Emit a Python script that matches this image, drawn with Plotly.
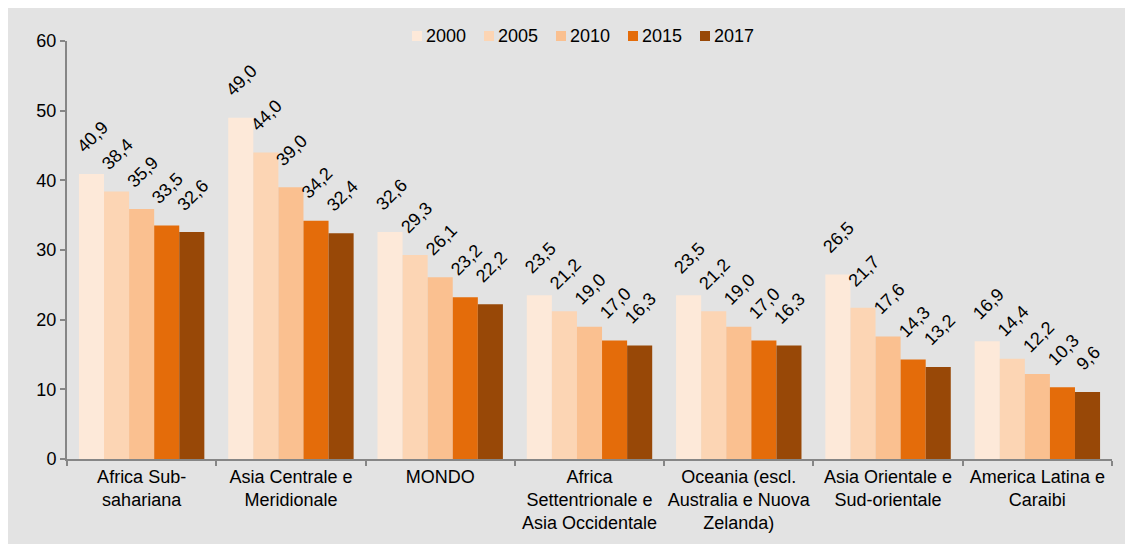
import plotly.graph_objects as go

categories = [
    "Africa Sub-<br>sahariana",
    "Asia Centrale e<br>Meridionale",
    "MONDO",
    "Africa<br>Settentrionale e<br>Asia Occidentale",
    "Oceania (escl.<br>Australia e Nuova<br>Zelanda)",
    "Asia Orientale e<br>Sud-orientale",
    "America Latina e<br>Caraibi",
]
years = ["2000", "2005", "2010", "2015", "2017"]
values_2000 = [40.9, 49.0, 32.6, 23.5, 23.5, 26.5, 16.9]
values_2005 = [38.4, 44.0, 29.3, 21.2, 21.2, 21.7, 14.4]
values_2010 = [35.9, 39.0, 26.1, 19.0, 19.0, 17.6, 12.2]
values_2015 = [33.5, 34.2, 23.2, 17.0, 17.0, 14.3, 10.3]
values_2017 = [32.6, 32.4, 22.2, 16.3, 16.3, 13.2, 9.6]
y_ticks = [0, 10, 20, 30, 40, 50, 60]

series = [values_2000, values_2005, values_2010, values_2015, values_2017]
colors = ["#fde9d9", "#fcd5b4", "#fac090", "#e46c0a", "#984807"]

FONT = "Arial, Liberation Sans, sans-serif"
BARGAP = 0.16
PLOT_W = 1125 - 59 - 21
PLOT_H = 536 - 33 - 85

fig = go.Figure()
for year, vals, col in zip(years, series, colors):
    fig.add_trace(go.Bar(x=categories, y=vals, name=year,
                         marker=dict(color=col, line=dict(width=0))))

# value labels, rotated like the original (placed on each bar of the group)
n = len(series)
bar_w = (1 - BARGAP) / n
for j, vals in enumerate(series):
    offset = -(1 - BARGAP) / 2 + bar_w * (j + 0.5)
    for i, v in enumerate(vals):
        fig.add_annotation(x=i + offset, y=v, xref="x", yref="y",
                           text=f"{v:.1f}".replace(".", ","), showarrow=False,
                           textangle=-45, xanchor="center", yanchor="bottom",
                           xshift=1, yshift=15, font=dict(size=18, color="#000000"))

# compact legend drawn by hand (small square + label, Excel style)
leg_x0 = 345 / PLOT_W
leg_step = 72 / PLOT_W
sq = 10
leg_y = 1 + 5 / PLOT_H
for k, (year, col) in enumerate(zip(years, colors)):
    x0 = leg_x0 + k * leg_step
    fig.add_shape(type="rect", xref="paper", yref="paper",
                  x0=x0, x1=x0 + sq / PLOT_W,
                  y0=leg_y - sq / 2 / PLOT_H, y1=leg_y + sq / 2 / PLOT_H,
                  fillcolor=col, line=dict(width=0))
    fig.add_annotation(x=x0 + (sq + 2) / PLOT_W, y=leg_y, xref="paper", yref="paper",
                       text=year, showarrow=False, xanchor="left", yanchor="middle",
                       font=dict(size=18, color="#000000"))

fig.update_layout(
    width=1125, height=536,
    margin=dict(l=59, r=21, t=33, b=85),
    paper_bgcolor="#e3e3e3", plot_bgcolor="#e3e3e3",
    barmode="group", bargap=BARGAP, bargroupgap=0,
    font=dict(family=FONT, size=18, color="#000000"),
    showlegend=False,
)
fig.update_xaxes(showline=True, linecolor="#868686", linewidth=2,
                 ticks="outside", tickson="boundaries", ticklen=5, tickcolor="#868686",
                 tickwidth=1.5, tickfont=dict(size=18), tickangle=0, automargin=False,
                 showgrid=False)
fig.update_yaxes(range=[0, 60], tickvals=y_ticks, showline=True, linecolor="#868686",
                 linewidth=2, ticks="outside", ticklen=5, tickcolor="#868686",
                 tickwidth=1.5, tickfont=dict(size=18), automargin=False,
                 showgrid=False, zeroline=False)

fig.write_html("out.html")
